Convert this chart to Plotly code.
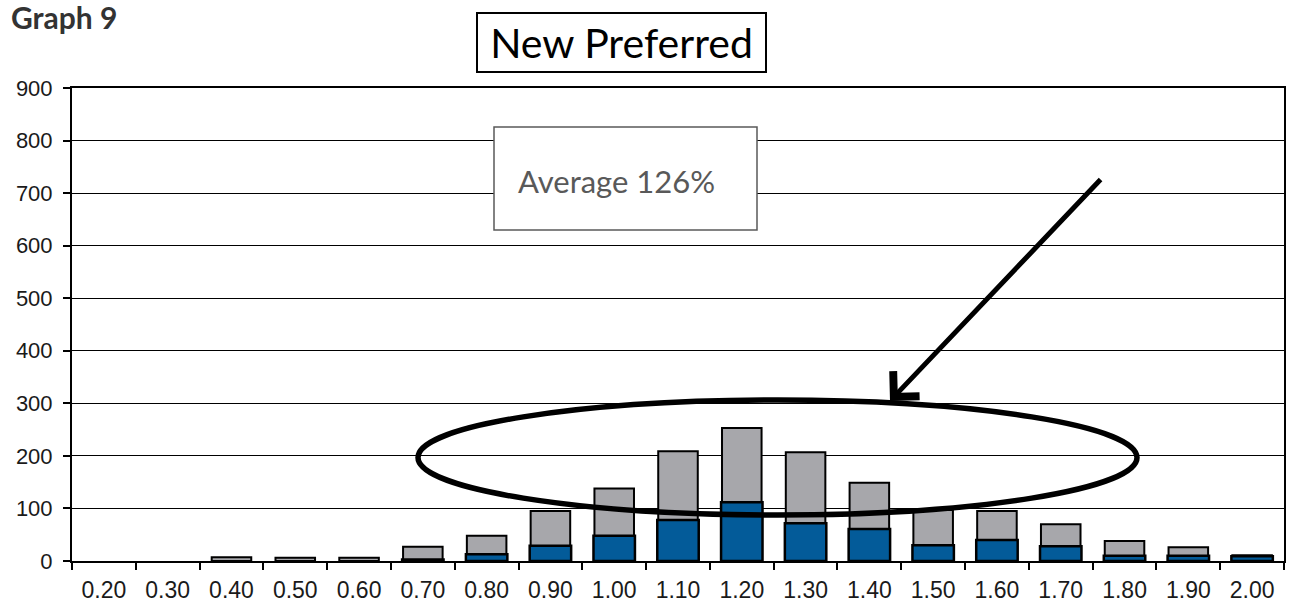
import plotly.graph_objects as go

# Distribution of ratios (category labels) with total and subset counts
categories = ["0.20", "0.30", "0.40", "0.50", "0.60", "0.70", "0.80", "0.90", "1.00",
              "1.10", "1.20", "1.30", "1.40", "1.50", "1.60", "1.70", "1.80", "1.90", "2.00"]
total_counts = [0, 0, 7, 6, 6, 27, 48, 95, 138, 209, 253, 207, 149, 97, 95, 70, 38, 26, 11]
subset_counts = [0, 0, 0, 0, 0, 3, 13, 29, 48, 78, 112, 72, 61, 30, 40, 28, 10, 10, 9]
y_ticks = [0, 100, 200, 300, 400, 500, 600, 700, 800, 900]

W, H = 1289, 606
M_L, M_R, M_T, M_B = 72, 5, 88, 45


def outline(values, width):
    # empty bins get no outline so nothing is drawn for them
    return [width if v > 0 else 0 for v in values]


fig = go.Figure()
fig.add_trace(go.Bar(
    x=categories, y=total_counts, width=0.62,
    marker=dict(color="#A7A7AB", line=dict(color="black", width=outline(total_counts, 2))),
    showlegend=False, hoverinfo="x+y",
))
fig.add_trace(go.Bar(
    x=categories, y=subset_counts, width=0.65,
    marker=dict(color="#035B99", line=dict(color="black", width=outline(subset_counts, 2.5))),
    showlegend=False, hoverinfo="x+y",
))

fig.update_layout(
    width=W, height=H,
    margin=dict(l=M_L, r=M_R, t=M_T, b=M_B, pad=0),
    paper_bgcolor="white", plot_bgcolor="white",
    barmode="overlay", bargap=0.35,
    font=dict(family="Liberation Sans", size=18, color="#1a1a1a"),
    xaxis=dict(
        type="category", showgrid=False, showline=True, mirror=True,
        linecolor="black", linewidth=2, ticks="outside", tickson="boundaries",
        ticklen=7, tickwidth=1.5, tickcolor="black",
        tickfont=dict(family="Liberation Sans", size=23, color="#1a1a1a"),
        ticklabelstandoff=7,
        range=[-0.5, len(categories) - 0.5], automargin=False,
    ),
    yaxis=dict(
        range=[0, 900], tickvals=y_ticks, showgrid=True, gridcolor="black",
        gridwidth=1, showline=True, mirror=True, linecolor="black", linewidth=2,
        ticks="outside", ticklen=7, tickwidth=1.5, tickcolor="black",
        tickfont=dict(family="Liberation Sans", size=22, color="#1a1a1a"),
        ticklabelstandoff=6, zeroline=False, automargin=False,
    ),
)


def px_to_x(px):
    # pixel column -> category index position
    return (px - M_L) / ((W - M_L - M_R) / len(categories)) - 0.5


def px_to_y(py):
    # pixel row -> value on the count axis
    return (H - M_B - py) / ((H - M_T - M_B) / 900)


# Highlight ellipse around the peak of the distribution
fig.add_shape(type="circle", xref="x", yref="y",
              x0=px_to_x(418), x1=px_to_x(1137), y0=px_to_y(515), y1=px_to_y(400),
              line=dict(color="black", width=5.5))

# Box with the average label
fig.add_shape(type="rect", xref="x", yref="y",
              x0=px_to_x(494), x1=px_to_x(757), y0=px_to_y(230), y1=px_to_y(127),
              line=dict(color="#595959", width=1.5), fillcolor="white")
fig.add_annotation(x=px_to_x(516), y=px_to_y(181), xref="x", yref="y",
                   text="Average 126%", showarrow=False, xanchor="left", yanchor="middle",
                   font=dict(family="Lato", size=31, color="#595959"))

# Arrow pointing at the ellipse
fig.add_annotation(x=px_to_x(890), y=px_to_y(401), xref="x", yref="y",
                   ax=px_to_x(1102), ay=px_to_y(178), axref="x", ayref="y",
                   text="", showarrow=True, arrowhead=4, arrowsize=1.4,
                   arrowwidth=5, arrowcolor="black")

# Chart title in a box
fig.add_annotation(x=(621 - M_L) / (W - M_L - M_R), y=(H - M_B - 42) / (H - M_T - M_B),
                   xref="paper", yref="paper", text="New Preferred", showarrow=False,
                   xanchor="center", yanchor="middle", width=287, height=57,
                   bordercolor="black", borderwidth=2, borderpad=0, bgcolor="white",
                   font=dict(family="Lato", size=41, color="black"))

# Figure caption
fig.add_annotation(x=(9 - M_L) / (W - M_L - M_R), y=(H - M_B - 17) / (H - M_T - M_B),
                   xref="paper", yref="paper", text="<b>Graph 9</b>", showarrow=False,
                   xanchor="left", yanchor="middle",
                   font=dict(family="Lato", size=30, color="#333333"))

fig.write_html("out.html")
